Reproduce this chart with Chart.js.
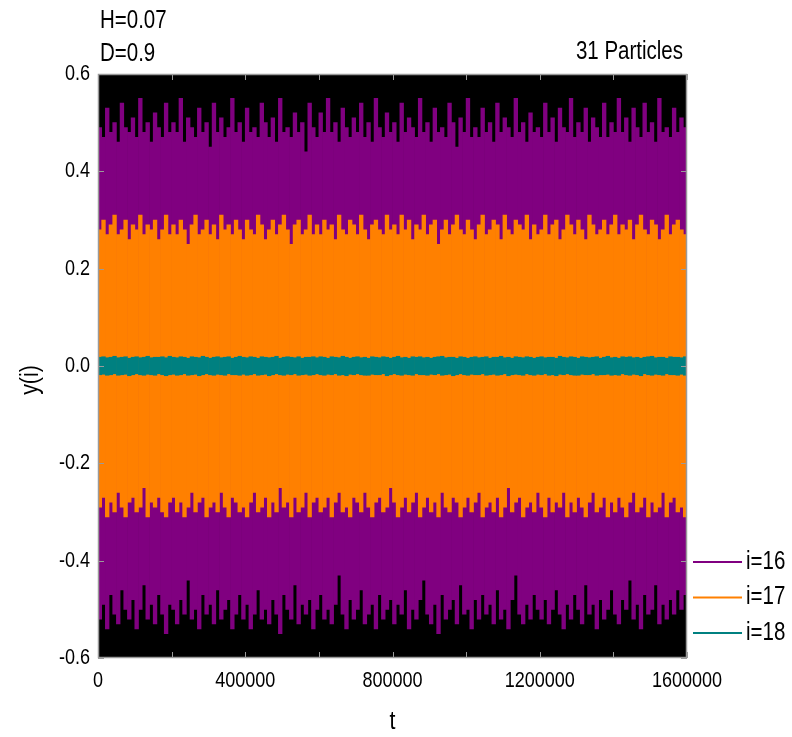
<!DOCTYPE html>
<html>
<head>
<meta charset="utf-8">
<script src="https://cdn.jsdelivr.net/npm/chart.js@4.4.1/dist/chart.umd.min.js"></script>
<style>
	html, body { margin: 0; padding: 0; background: #fff; }
	#wrap { width: 792px; height: 737px; }
</style>
</head>
<body>
<div id="wrap"><canvas id="myChart" width="792" height="737"></canvas></div>
<script>
// run parameters shown in the corner
const hLabel = 'H=0.07';
const dLabel = 'D=0.9';
const particleLabel = '31 Particles';

// time axis: 160 bins of 10000 steps, ticks every 200000 (labelled every 400000)
const tMax = 1600000;
const tStep = 10000;
const tTickStep = 200000;
const tLabelStep = 400000;
const yTicks = [-0.6, -0.4, -0.2, 0.0, 0.2, 0.4, 0.6];

// i=16 : max / min of y(i) within each time bin
const i16Hi = [
	0.49,0.47,0.53,0.48,0.50,0.46,0.54,0.49,0.48,0.51,0.47,0.55,0.48,0.50,0.46,0.52,0.49,0.47,0.54,0.48,
	0.50,0.48,0.55,0.46,0.51,0.49,0.47,0.53,0.48,0.50,0.45,0.54,0.48,0.51,0.47,0.49,0.55,0.48,0.50,0.46,
	0.53,0.48,0.49,0.47,0.54,0.50,0.47,0.51,0.46,0.55,0.48,0.49,0.47,0.52,0.48,0.50,0.44,0.54,0.49,0.47,
	0.52,0.48,0.55,0.48,0.50,0.46,0.53,0.49,0.47,0.51,0.48,0.54,0.47,0.50,0.46,0.55,0.49,0.47,0.52,0.48,
	0.50,0.46,0.54,0.48,0.51,0.49,0.47,0.55,0.48,0.50,0.46,0.53,0.48,0.49,0.47,0.54,0.50,0.45,0.51,0.48,
	0.55,0.47,0.49,0.47,0.53,0.48,0.50,0.46,0.54,0.48,0.51,0.49,0.47,0.55,0.48,0.50,0.46,0.52,0.48,0.49,
	0.47,0.54,0.48,0.51,0.46,0.53,0.49,0.48,0.55,0.47,0.50,0.48,0.53,0.46,0.51,0.49,0.47,0.54,0.47,0.50,
	0.48,0.55,0.48,0.51,0.46,0.53,0.49,0.47,0.54,0.48,0.50,0.46,0.55,0.48,0.49,0.47,0.53,0.48,0.51,0.49
];
const i16Lo = [
	-0.52,-0.49,-0.54,-0.47,-0.51,-0.53,-0.46,-0.50,-0.52,-0.48,-0.54,-0.50,-0.45,-0.52,-0.49,-0.53,-0.47,-0.51,-0.55,-0.49,
	-0.50,-0.53,-0.48,-0.51,-0.44,-0.52,-0.50,-0.54,-0.47,-0.51,-0.49,-0.53,-0.46,-0.52,-0.50,-0.48,-0.54,-0.51,-0.47,-0.52,
	-0.49,-0.54,-0.51,-0.46,-0.52,-0.50,-0.53,-0.48,-0.51,-0.55,-0.47,-0.50,-0.52,-0.45,-0.53,-0.49,-0.51,-0.48,-0.54,-0.50,
	-0.47,-0.52,-0.50,-0.53,-0.49,-0.43,-0.51,-0.54,-0.48,-0.52,-0.50,-0.46,-0.53,-0.51,-0.49,-0.54,-0.47,-0.52,-0.50,-0.48,
	-0.53,-0.49,-0.51,-0.46,-0.54,-0.50,-0.52,-0.48,-0.44,-0.51,-0.53,-0.49,-0.55,-0.47,-0.52,-0.50,-0.48,-0.53,-0.45,-0.51,
	-0.50,-0.54,-0.48,-0.52,-0.47,-0.51,-0.49,-0.53,-0.46,-0.52,-0.50,-0.54,-0.48,-0.43,-0.51,-0.53,-0.49,-0.52,-0.47,-0.50,
	-0.52,-0.48,-0.53,-0.50,-0.46,-0.51,-0.54,-0.49,-0.52,-0.47,-0.50,-0.53,-0.45,-0.51,-0.49,-0.54,-0.48,-0.52,-0.50,-0.46,
	-0.51,-0.53,-0.48,-0.50,-0.44,-0.52,-0.49,-0.54,-0.47,-0.51,-0.50,-0.45,-0.53,-0.49,-0.52,-0.48,-0.51,-0.46,-0.50,-0.47
];

// i=17
const i17Hi = [
	0.28,0.30,0.27,0.29,0.31,0.27,0.28,0.30,0.26,0.29,0.28,0.31,0.27,0.29,0.28,0.30,0.26,0.28,0.31,0.27,
	0.29,0.27,0.30,0.28,0.25,0.29,0.31,0.27,0.28,0.30,0.27,0.29,0.26,0.31,0.28,0.29,0.27,0.30,0.28,0.26,
	0.30,0.28,0.27,0.31,0.29,0.26,0.28,0.30,0.27,0.29,0.31,0.28,0.25,0.29,0.30,0.27,0.28,0.31,0.27,0.29,
	0.27,0.30,0.28,0.29,0.26,0.31,0.28,0.27,0.30,0.29,0.27,0.31,0.28,0.26,0.29,0.30,0.28,0.27,0.31,0.28,
	0.29,0.27,0.31,0.28,0.30,0.26,0.29,0.28,0.31,0.27,0.29,0.30,0.25,0.28,0.30,0.27,0.29,0.31,0.28,0.27,
	0.30,0.28,0.26,0.29,0.31,0.27,0.28,0.30,0.29,0.26,0.31,0.28,0.27,0.30,0.29,0.28,0.31,0.26,0.29,0.27,
	0.28,0.31,0.27,0.29,0.30,0.26,0.28,0.31,0.29,0.27,0.30,0.28,0.26,0.31,0.29,0.27,0.28,0.30,0.27,0.29,
	0.31,0.27,0.29,0.28,0.30,0.26,0.29,0.31,0.28,0.27,0.30,0.29,0.26,0.28,0.31,0.27,0.29,0.30,0.28,0.27
];
const i17Lo = [
	-0.29,-0.27,-0.31,-0.28,-0.30,-0.26,-0.29,-0.31,-0.28,-0.27,-0.30,-0.29,-0.25,-0.31,-0.28,-0.29,-0.27,-0.30,-0.31,-0.28,
	-0.27,-0.30,-0.28,-0.31,-0.29,-0.26,-0.30,-0.28,-0.27,-0.31,-0.29,-0.28,-0.30,-0.26,-0.29,-0.31,-0.27,-0.28,-0.30,-0.29,
	-0.31,-0.28,-0.26,-0.30,-0.29,-0.27,-0.31,-0.28,-0.30,-0.25,-0.29,-0.28,-0.31,-0.27,-0.30,-0.29,-0.26,-0.31,-0.28,-0.27,
	-0.30,-0.29,-0.27,-0.31,-0.28,-0.26,-0.30,-0.29,-0.31,-0.27,-0.28,-0.30,-0.26,-0.29,-0.31,-0.28,-0.27,-0.30,-0.29,-0.25,
	-0.28,-0.31,-0.29,-0.27,-0.30,-0.28,-0.26,-0.31,-0.29,-0.27,-0.30,-0.28,-0.31,-0.26,-0.29,-0.30,-0.27,-0.28,-0.31,-0.29,
	-0.27,-0.30,-0.28,-0.26,-0.31,-0.29,-0.28,-0.30,-0.27,-0.31,-0.29,-0.25,-0.30,-0.28,-0.27,-0.31,-0.29,-0.28,-0.30,-0.26,
	-0.29,-0.31,-0.27,-0.30,-0.28,-0.29,-0.26,-0.31,-0.28,-0.30,-0.27,-0.29,-0.31,-0.28,-0.26,-0.30,-0.29,-0.27,-0.31,-0.28,
	-0.30,-0.27,-0.29,-0.31,-0.28,-0.26,-0.30,-0.29,-0.27,-0.31,-0.28,-0.30,-0.29,-0.26,-0.31,-0.28,-0.27,-0.30,-0.29,-0.31
];

// i=18
const i18Hi = [
	0.018,0.019,0.017,0.018,0.020,0.017,0.018,0.019,0.016,0.018,0.019,0.017,0.018,0.020,0.017,0.018,0.018,0.019,0.017,0.020,
	0.018,0.017,0.019,0.018,0.016,0.019,0.018,0.017,0.020,0.018,0.016,0.018,0.019,0.017,0.018,0.019,0.016,0.018,0.020,0.018,
	0.017,0.019,0.018,0.016,0.019,0.018,0.017,0.018,0.020,0.016,0.018,0.019,0.018,0.017,0.019,0.016,0.018,0.018,0.019,0.017,
	0.019,0.018,0.016,0.019,0.018,0.017,0.020,0.018,0.016,0.018,0.019,0.017,0.018,0.016,0.019,0.018,0.017,0.019,0.018,0.016,
	0.018,0.020,0.017,0.018,0.016,0.019,0.018,0.019,0.017,0.018,0.016,0.018,0.019,0.020,0.017,0.018,0.018,0.016,0.019,0.018,
	0.016,0.018,0.019,0.017,0.018,0.019,0.016,0.018,0.018,0.020,0.017,0.018,0.016,0.019,0.018,0.017,0.019,0.018,0.016,0.018,
	0.019,0.017,0.018,0.018,0.016,0.020,0.018,0.017,0.019,0.018,0.016,0.019,0.018,0.017,0.018,0.019,0.016,0.018,0.020,0.017,
	0.018,0.016,0.019,0.018,0.019,0.017,0.018,0.016,0.018,0.019,0.020,0.017,0.018,0.018,0.016,0.019,0.018,0.018,0.017,0.019
];
const i18Lo = [
	-0.018,-0.017,-0.019,-0.018,-0.016,-0.019,-0.018,-0.017,-0.020,-0.018,-0.016,-0.018,-0.019,-0.017,-0.018,-0.019,-0.016,-0.018,-0.020,-0.018,
	-0.017,-0.019,-0.018,-0.016,-0.019,-0.018,-0.017,-0.020,-0.018,-0.016,-0.018,-0.019,-0.017,-0.018,-0.019,-0.016,-0.018,-0.018,-0.019,-0.017,
	-0.019,-0.018,-0.016,-0.019,-0.018,-0.017,-0.020,-0.018,-0.016,-0.018,-0.019,-0.017,-0.018,-0.016,-0.019,-0.018,-0.017,-0.019,-0.018,-0.016,
	-0.018,-0.019,-0.017,-0.018,-0.016,-0.019,-0.018,-0.020,-0.017,-0.018,-0.016,-0.018,-0.019,-0.019,-0.017,-0.018,-0.018,-0.016,-0.020,-0.018,
	-0.016,-0.018,-0.019,-0.017,-0.018,-0.019,-0.016,-0.018,-0.018,-0.019,-0.017,-0.018,-0.016,-0.019,-0.018,-0.017,-0.020,-0.018,-0.016,-0.018,
	-0.019,-0.017,-0.018,-0.018,-0.016,-0.019,-0.018,-0.017,-0.019,-0.018,-0.016,-0.020,-0.018,-0.017,-0.018,-0.019,-0.016,-0.018,-0.019,-0.017,
	-0.018,-0.016,-0.019,-0.018,-0.020,-0.017,-0.018,-0.016,-0.018,-0.019,-0.019,-0.017,-0.018,-0.018,-0.016,-0.019,-0.018,-0.018,-0.017,-0.019,
	-0.018,-0.019,-0.016,-0.018,-0.019,-0.017,-0.018,-0.020,-0.016,-0.018,-0.019,-0.017,-0.018,-0.019,-0.016,-0.018,-0.018,-0.019,-0.017,-0.019
];

// the outer particle (black, unlabelled) runs past the +-0.6 frame everywhere
const outerT = [0, 200000, 400000, 600000, 800000, 1000000, 1200000, 1400000, 1600000];
const outerHi = [0.64, 0.66, 0.63, 0.65, 0.67, 0.64, 0.66, 0.63, 0.65];
const outerLo = [-0.65, -0.63, -0.66, -0.64, -0.62, -0.65, -0.67, -0.64, -0.66];

const FONT = '"Liberation Sans", Arial, sans-serif';
const SQUEEZE = 0.82;   // glyphs are drawn condensed horizontally
const FRAME = '#9a9a9a';

function binData(lo, hi) {
	return lo.map((v, i) => ({ x: i * tStep + tStep / 2, y: [v, hi[i]] }));
}

function bandSeries(label, lo, hi, color, order) {
	return {
		type: 'bar',
		label: label,
		data: binData(lo, hi),
		backgroundColor: color,
		borderWidth: 0,
		barPercentage: 1,
		categoryPercentage: 1,
		grouped: false,
		order: order
	};
}

// condensed text at (x, y), optionally rotated
function narrowText(ctx, text, x, y, align, size, angle) {
	ctx.save();
	ctx.translate(x, y);
	if (angle) ctx.rotate(angle);
	ctx.scale(SQUEEZE, 1);
	ctx.font = size + 'px ' + FONT;
	ctx.textAlign = align;
	ctx.textBaseline = 'middle';
	ctx.fillText(text, 0, 0);
	ctx.restore();
}

function xLabel(v) {
	return v % tLabelStep === 0 ? String(v) : '';
}

function yLabel(v) {
	return Math.abs(v) < 1e-9 ? '0.0' : v.toFixed(1);
}

// frame, inward tick marks, tick labels, corner texts and the line legend
const decorations = {
	id: 'decorations',
	afterDatasetsDraw(chart) {
		const ctx = chart.ctx;
		const a = chart.chartArea;
		const xs = chart.scales.x;
		const ys = chart.scales.y;
		ctx.save();
		ctx.strokeStyle = FRAME;
		ctx.lineWidth = 1;
		ctx.beginPath();
		xs.ticks.forEach(t => {
			const px = Math.round(xs.getPixelForValue(t.value)) + 0.5;
			ctx.moveTo(px, a.bottom); ctx.lineTo(px, a.bottom - 6);
			ctx.moveTo(px, a.top); ctx.lineTo(px, a.top + 6);
		});
		yTicks.forEach(v => {
			const py = Math.round(ys.getPixelForValue(v)) + 0.5;
			ctx.moveTo(a.left, py); ctx.lineTo(a.left + 6, py);
			ctx.moveTo(a.right, py); ctx.lineTo(a.right - 6, py);
		});
		ctx.stroke();
		ctx.lineWidth = 1.5;
		ctx.strokeRect(a.left + 0.5, a.top + 0.5, a.right - a.left - 1, a.bottom - a.top - 1);
		ctx.restore();
	},
	afterDraw(chart) {
		const ctx = chart.ctx;
		const a = chart.chartArea;
		const xs = chart.scales.x;
		const ys = chart.scales.y;
		ctx.save();
		ctx.fillStyle = '#000';

		// tick labels
		xs.ticks.forEach(t => {
			const s = xLabel(t.value);
			if (s) narrowText(ctx, s, xs.getPixelForValue(t.value), a.bottom + 23, 'center', 22);
		});
		yTicks.forEach(v => {
			narrowText(ctx, yLabel(v), a.left - 8, ys.getPixelForValue(v), 'right', 22);
		});

		narrowText(ctx, hLabel, a.left + 2, 21, 'left', 25);
		narrowText(ctx, dLabel, a.left + 2, 54, 'left', 25);
		narrowText(ctx, particleLabel, a.right - 4, 52, 'right', 25);

		// axis titles
		narrowText(ctx, 't', (a.left + a.right) / 2, 722, 'center', 26);
		narrowText(ctx, 'y(i)', 31, 380, 'center', 26, -Math.PI / 2);

		// legend, bottom right outside the frame
		const items = chart.data.datasets.filter(d => d.label);
		items.forEach((d, k) => {
			const y = 562 + k * 35.5;
			ctx.strokeStyle = d.backgroundColor;
			ctx.lineWidth = 2;
			ctx.beginPath();
			ctx.moveTo(a.right + 6, y);
			ctx.lineTo(a.right + 55, y);
			ctx.stroke();
			narrowText(ctx, d.label, a.right + 59, y, 'left', 25);
		});
		ctx.restore();
	}
};

const ctx = document.getElementById('myChart').getContext('2d');
const myChart = new Chart(ctx, {
	data: {
		datasets: [
			bandSeries('i=16', i16Lo, i16Hi, '#800080', 3),
			bandSeries('i=17', i17Lo, i17Hi, '#ff8000', 2),
			bandSeries('i=18', i18Lo, i18Hi, '#008080', 1),
			{
				type: 'line',
				label: '',
				data: outerT.map((t, i) => ({ x: t, y: outerHi[i] })),
				borderColor: '#000',
				backgroundColor: '#000',
				borderWidth: 0,
				pointRadius: 0,
				fill: '+1',
				order: 4
			},
			{
				type: 'line',
				label: '',
				data: outerT.map((t, i) => ({ x: t, y: outerLo[i] })),
				borderColor: '#000',
				borderWidth: 0,
				pointRadius: 0,
				fill: false,
				order: 5
			}
		]
	},
	options: {
		responsive: false,
		animation: false,
		devicePixelRatio: 1,
		events: [],
		layout: { padding: { top: 74, right: 105, bottom: 0, left: 0 } },
		plugins: {
			legend: { display: false },
			tooltip: { enabled: false },
			title: { display: false }
		},
		scales: {
			x: {
				type: 'linear',
				min: 0,
				max: tMax,
				offset: false,
				grid: { display: false, drawTicks: false },
				border: { display: false },
				ticks: { display: false, stepSize: tTickStep, autoSkip: false, maxRotation: 0 },
				afterFit(scale) { scale.height = 79; }
			},
			y: {
				min: -0.6,
				max: 0.6,
				grid: { display: false, drawTicks: false },
				border: { display: false },
				ticks: { display: false, stepSize: 0.2 },
				afterFit(scale) { scale.width = 98; }
			}
		}
	},
	plugins: [decorations]
});
</script>
</body>
</html>
